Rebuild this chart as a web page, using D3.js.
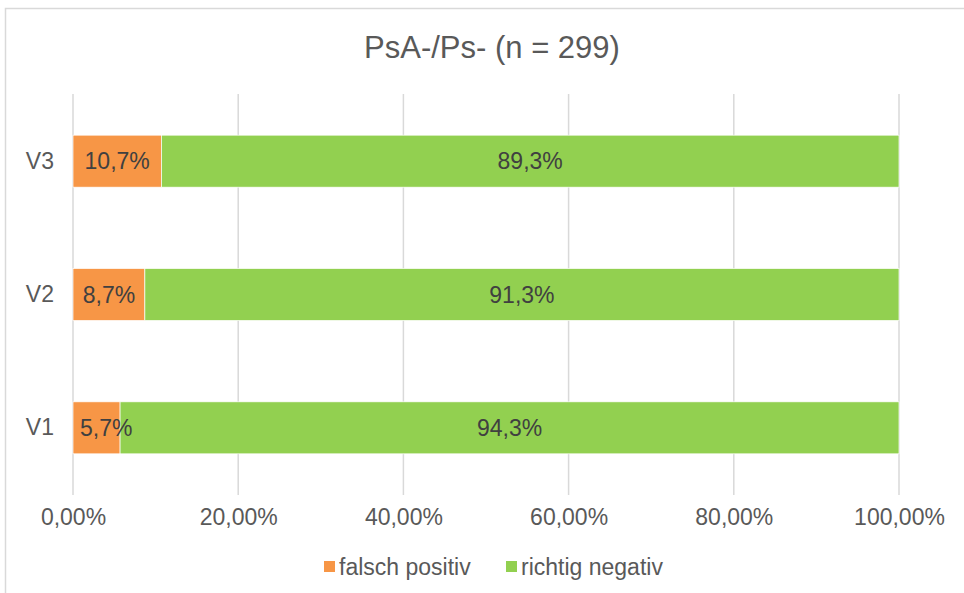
<!DOCTYPE html>
<html><head><meta charset="utf-8">
<script src="https://cdn.jsdelivr.net/npm/d3@7"></script>
<style>body{margin:0;background:#fff}svg{display:block;font-family:"Liberation Sans",Arial,sans-serif}</style>
</head><body><svg id="c" width="964" height="593"></svg>
<script>
const categories = ["V3", "V2", "V1"];
const falschPositiv = [10.7, 8.7, 5.7];
const richtigNegativ = [89.3, 91.3, 94.3];
const seriesNames = ["falsch positiv", "richtig negativ"];
const tickValues = [0, 20, 40, 60, 80, 100];
const title = "PsA-/Ps- (n = 299)";

const colors = ["#F79646", "#92D050"];
const FS = 23;
const svg = d3.select("#c");
svg.append("rect").attr("x",5.5).attr("y",8.5).attr("width",1000).attr("height",700)
  .attr("fill","none").attr("stroke","#d9d9d9").attr("stroke-width",1.5);

const x = d3.scaleLinear().domain([0,100]).range([73,899]);
const y = d3.scaleBand().domain(categories).range([94.5,494.5]).paddingInner(0.61).paddingOuter(0.305);

svg.append("text").attr("x",492).attr("y",47).attr("dy","0.36em").attr("text-anchor","middle")
  .attr("font-size",31).attr("fill","#595959").text(title);

// gridlines
svg.append("g").selectAll("line").data(tickValues).join("line")
  .attr("x1",d=>x(d)).attr("x2",d=>x(d)).attr("y1",94).attr("y2",495)
  .attr("stroke","#d9d9d9").attr("stroke-width",1.5);

// x axis labels
const xa = svg.append("g").attr("transform","translate(0,495)")
  .call(d3.axisBottom(x).tickValues(tickValues).tickSize(0).tickPadding(14)
    .tickFormat(d=>d.toFixed(2).replace(".",",")+"%"));
xa.select(".domain").remove();
xa.selectAll("text").attr("font-size",FS).attr("fill","#595959").attr("font-family","Liberation Sans, Arial, sans-serif");

// y axis labels
const ya = svg.append("g").attr("transform","translate(73,0)")
  .call(d3.axisLeft(y).tickSize(0).tickPadding(19));
ya.select(".domain").remove();
ya.selectAll("text").attr("font-size",FS).attr("fill","#595959").attr("font-family","Liberation Sans, Arial, sans-serif");

const rows = categories.map((c,i)=>({c, vals:[falschPositiv[i], richtigNegativ[i]]}));
const segs = [];
rows.forEach(r=>{ let s=0; r.vals.forEach((v,k)=>{ segs.push({c:r.c,k,v,x0:s,x1:s+v}); s+=v; }); });

svg.append("g").selectAll("rect").data(segs).join("rect")
  .attr("x",d=>x(d.x0)).attr("width",d=>x(d.x1)-x(d.x0))
  .attr("y",d=>y(d.c)).attr("height",y.bandwidth())
  .attr("fill",d=>colors[d.k]).attr("stroke","#fff").attr("stroke-width",0.7);

svg.append("g").selectAll("text").data(segs).join("text")
  .attr("y",d=>y(d.c)+y.bandwidth()/2).attr("dy","0.36em")
  .attr("font-size",FS).attr("fill","#404040")
  .text(d=>d.v.toFixed(1).replace(".",",")+"%")
  .each(function(d){
    const w=this.getComputedTextLength();
    const cx=(x(d.x0)+x(d.x1))/2;
    const left=Math.max(cx-w/2, x(d.x0)+7);
    d3.select(this).attr("x",left);
  });

// legend
const lg = svg.append("g");
const lx = [324, 506];
seriesNames.forEach((n,i)=>{
  lg.append("rect").attr("x",lx[i]).attr("y",561).attr("width",11).attr("height",11).attr("fill",colors[i]);
  lg.append("text").attr("x",lx[i]+15).attr("y",567).attr("dy","0.36em").attr("font-size",FS).attr("fill","#595959").text(n);
});
</script></body></html>
